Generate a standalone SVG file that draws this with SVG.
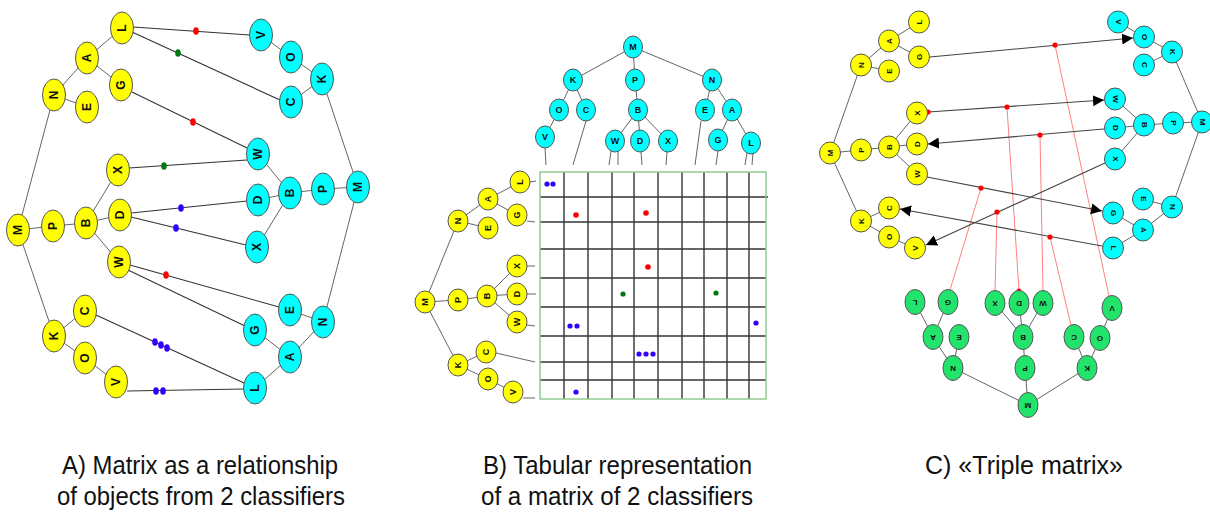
<svg xmlns="http://www.w3.org/2000/svg" width="1210" height="512" viewBox="0 0 1210 512">
<style>
.y{fill:#ffff00;stroke:#555;stroke-width:1}
.c{fill:#00ffff;stroke:#555;stroke-width:1}
.g{fill:#22e46c;stroke:#555;stroke-width:1}
.t{font-family:"Liberation Sans",Arial,sans-serif;font-weight:bold;text-anchor:middle;dominant-baseline:central;fill:#111}
.ta{font-size:12px}.tb{font-size:9px}.tc{font-size:8px}
.e{stroke:#666;stroke-width:1;fill:none}
.k{stroke:#333;stroke-width:1.1;fill:none}
.gr{stroke:#333;stroke-width:1.4;fill:none}
.pk{stroke:#ff8080;stroke-width:1;fill:none}
.ar{stroke:#444;stroke-width:1.1;fill:none;marker-end:url(#ah)}
.rd{fill:#ff0000}.gd{fill:#007a10}.bd{fill:#3300ff}
.cap{font-family:"Liberation Sans",Arial,sans-serif;font-size:26px;fill:#111}
</style>
<defs>
<marker id="ah" viewBox="0 0 10 10" refX="10" refY="5" markerWidth="11" markerHeight="13" markerUnits="userSpaceOnUse" orient="auto"><path d="M0,0 L10,5 L0,10 Z" fill="#000"/></marker>
</defs>
<rect width="1210" height="512" fill="#fff"/>

<!-- ===== connectors ===== -->
<g id="connectors">
<!-- Panel A tree edges -->
<g class="e">
<line x1="54" y1="95" x2="87" y2="58"/><line x1="87" y1="58" x2="122" y2="28"/><line x1="87" y1="58" x2="121" y2="85"/><line x1="54" y1="95" x2="87" y2="107"/>
<line x1="18" y1="230" x2="54" y2="95"/><line x1="18" y1="230" x2="53" y2="226"/><line x1="53" y1="226" x2="86" y2="223"/>
<line x1="86" y1="223" x2="118" y2="170"/><line x1="86" y1="223" x2="120" y2="215"/><line x1="86" y1="223" x2="119" y2="262"/>
<line x1="18" y1="230" x2="54" y2="336"/><line x1="54" y1="336" x2="85" y2="310"/><line x1="54" y1="336" x2="85" y2="358"/><line x1="85" y1="358" x2="116" y2="382"/>
<line x1="261" y1="35" x2="291" y2="57"/><line x1="291" y1="57" x2="322" y2="79"/><line x1="322" y1="79" x2="291" y2="102"/><line x1="322" y1="79" x2="358" y2="187"/>
<line x1="258" y1="154" x2="290" y2="193"/><line x1="258" y1="200" x2="290" y2="193"/><line x1="257" y1="247" x2="290" y2="193"/>
<line x1="290" y1="193" x2="323" y2="189"/><line x1="323" y1="189" x2="358" y2="187"/><line x1="358" y1="187" x2="323" y2="322"/>
<line x1="323" y1="322" x2="290" y2="310"/><line x1="323" y1="322" x2="290" y2="357"/><line x1="290" y1="357" x2="255" y2="330"/><line x1="290" y1="357" x2="255" y2="388"/>
</g>
<!-- Panel A relations -->
<g class="k">
<line x1="133" y1="27" x2="250" y2="35"/>
<line x1="132" y1="32" x2="280" y2="100"/>
<line x1="132" y1="92" x2="247" y2="148"/>
<line x1="129" y1="168" x2="247" y2="160"/>
<line x1="131" y1="213" x2="247" y2="201"/>
<line x1="131" y1="217" x2="246" y2="245"/>
<line x1="130" y1="265" x2="279" y2="307"/>
<line x1="128" y1="270" x2="245" y2="326"/>
<line x1="96" y1="315" x2="244" y2="383"/>
<line x1="127" y1="391" x2="244" y2="389"/>
</g>
<g>
<ellipse class="rd" cx="196" cy="31" rx="2.8" ry="3.8"/>
<ellipse class="gd" cx="178" cy="53" rx="2.8" ry="3.8"/>
<ellipse class="rd" cx="193" cy="122" rx="2.8" ry="3.8"/>
<ellipse class="gd" cx="164" cy="166" rx="2.8" ry="3.8"/>
<ellipse class="bd" cx="181" cy="208" rx="2.8" ry="3.8"/>
<ellipse class="bd" cx="176" cy="228" rx="2.8" ry="3.8"/>
<ellipse class="rd" cx="166" cy="275" rx="2.8" ry="3.8"/>
<ellipse class="bd" cx="155" cy="342" rx="2.8" ry="3.8"/>
<ellipse class="bd" cx="161" cy="345" rx="2.8" ry="3.8"/>
<ellipse class="bd" cx="167" cy="348" rx="2.8" ry="3.8"/>
<ellipse class="bd" cx="156" cy="391" rx="2.8" ry="3.8"/>
<ellipse class="bd" cx="163" cy="391" rx="2.8" ry="3.8"/>
</g>

<!-- Panel B tree edges -->
<g class="e">
<line x1="633" y1="47" x2="573" y2="80"/><line x1="633" y1="47" x2="635" y2="80"/><line x1="633" y1="47" x2="712" y2="80"/>
<line x1="573" y1="80" x2="559" y2="110"/><line x1="573" y1="80" x2="586" y2="110"/><line x1="559" y1="110" x2="545" y2="137"/>
<line x1="635" y1="80" x2="638" y2="110"/><line x1="638" y1="110" x2="615" y2="141"/><line x1="638" y1="110" x2="640" y2="141"/><line x1="638" y1="110" x2="668" y2="141"/>
<line x1="712" y1="80" x2="705" y2="110"/><line x1="712" y1="80" x2="732" y2="110"/><line x1="732" y1="110" x2="718" y2="140"/><line x1="732" y1="110" x2="751" y2="143"/>
<line x1="545" y1="148" x2="546" y2="165"/><line x1="586" y1="121" x2="573" y2="165"/>
<line x1="611" y1="151" x2="609" y2="165"/><line x1="618" y1="151" x2="618" y2="165"/>
<line x1="641" y1="152" x2="642" y2="165"/><line x1="667" y1="152" x2="666" y2="165"/>
<line x1="701" y1="121" x2="695" y2="165"/><line x1="718" y1="151" x2="716" y2="165"/>
<line x1="747" y1="153" x2="745" y2="165"/><line x1="753" y1="153" x2="752" y2="165"/>
<line x1="458" y1="221" x2="488" y2="199"/><line x1="488" y1="199" x2="520" y2="182"/><line x1="488" y1="199" x2="517" y2="215"/><line x1="458" y1="221" x2="488" y2="228"/>
<line x1="425" y1="302" x2="458" y2="221"/><line x1="425" y1="302" x2="458" y2="300"/><line x1="458" y1="300" x2="487" y2="296"/>
<line x1="487" y1="296" x2="517" y2="266"/><line x1="487" y1="296" x2="517" y2="294"/><line x1="487" y1="296" x2="517" y2="322"/>
<line x1="425" y1="302" x2="458" y2="365"/><line x1="458" y1="365" x2="486" y2="352"/><line x1="458" y1="365" x2="488" y2="379"/><line x1="488" y1="379" x2="513" y2="392"/>
<line x1="530" y1="182" x2="536" y2="181"/><line x1="527" y1="221" x2="535" y2="222"/><line x1="527" y1="266" x2="535" y2="266"/>
<line x1="527" y1="294" x2="536" y2="294"/><line x1="527" y1="325" x2="535" y2="326"/><line x1="496" y1="353" x2="535" y2="362"/><line x1="523" y1="398" x2="535" y2="398"/>
</g>
<!-- Panel B grid -->
<g class="gr">
<line x1="564" y1="172" x2="564" y2="399"/><line x1="588" y1="172" x2="588" y2="399"/><line x1="612" y1="172" x2="612" y2="399"/>
<line x1="634" y1="172" x2="634" y2="399"/><line x1="658" y1="172" x2="658" y2="399"/><line x1="682" y1="172" x2="682" y2="399"/>
<line x1="704" y1="172" x2="704" y2="399"/><line x1="727" y1="172" x2="727" y2="399"/><line x1="749" y1="172" x2="749" y2="399"/>
<line x1="540" y1="197" x2="768" y2="197"/><line x1="540" y1="222" x2="766" y2="222"/><line x1="540" y1="249" x2="766" y2="249"/>
<line x1="540" y1="278" x2="766" y2="278"/><line x1="540" y1="307" x2="766" y2="307"/><line x1="540" y1="336" x2="766" y2="336"/>
<line x1="540" y1="362" x2="766" y2="362"/><line x1="540" y1="380" x2="766" y2="380"/>
</g>
<rect x="540" y="172" width="226" height="227" fill="none" stroke="#8fcc8f" stroke-width="1.5"/>
<g>
<circle class="bd" cx="547" cy="184" r="2.6"/><circle class="bd" cx="553" cy="184" r="2.6"/>
<circle class="rd" cx="576" cy="215" r="2.8"/><circle class="rd" cx="646" cy="213" r="2.8"/>
<circle class="rd" cx="648" cy="267" r="2.8"/>
<circle class="gd" cx="623" cy="294" r="2.6"/><circle class="gd" cx="716" cy="293" r="2.6"/>
<circle class="bd" cx="570" cy="326" r="2.6"/><circle class="bd" cx="577" cy="326" r="2.6"/><circle class="bd" cx="756" cy="323" r="2.6"/>
<circle class="bd" cx="639" cy="354" r="2.6"/><circle class="bd" cx="646" cy="354" r="2.6"/><circle class="bd" cx="653" cy="354" r="2.6"/>
<circle class="bd" cx="576" cy="392" r="2.6"/>
</g>

<!-- Panel C tree edges -->
<g class="e">
<line x1="861" y1="65" x2="889" y2="41"/><line x1="889" y1="41" x2="919" y2="22"/><line x1="889" y1="41" x2="919" y2="57"/><line x1="861" y1="65" x2="889" y2="71"/>
<line x1="830" y1="153" x2="861" y2="65"/><line x1="830" y1="153" x2="861" y2="150"/><line x1="861" y1="150" x2="889" y2="147"/>
<line x1="889" y1="147" x2="917" y2="113"/><line x1="889" y1="147" x2="917" y2="144"/><line x1="889" y1="147" x2="917" y2="174"/>
<line x1="830" y1="153" x2="861" y2="221"/><line x1="861" y1="221" x2="889" y2="208"/><line x1="861" y1="221" x2="889" y2="237"/><line x1="889" y1="237" x2="915" y2="248"/>
<line x1="1118" y1="22" x2="1144" y2="37"/><line x1="1144" y1="37" x2="1172" y2="52"/><line x1="1172" y1="52" x2="1144" y2="65"/><line x1="1172" y1="52" x2="1202" y2="122"/>
<line x1="1115" y1="99" x2="1144" y2="125"/><line x1="1115" y1="128" x2="1144" y2="125"/><line x1="1115" y1="159" x2="1144" y2="125"/>
<line x1="1144" y1="125" x2="1173" y2="123"/><line x1="1173" y1="123" x2="1202" y2="122"/><line x1="1202" y1="122" x2="1172" y2="207"/>
<line x1="1172" y1="207" x2="1143" y2="199"/><line x1="1172" y1="207" x2="1143" y2="230"/><line x1="1143" y1="230" x2="1113" y2="213"/><line x1="1143" y1="230" x2="1113" y2="248"/>
<line x1="915" y1="302" x2="933" y2="337"/><line x1="948" y1="302" x2="933" y2="337"/><line x1="933" y1="337" x2="953" y2="368"/><line x1="959" y1="337" x2="953" y2="368"/>
<line x1="995" y1="303" x2="1023" y2="337"/><line x1="1019" y1="303" x2="1023" y2="337"/><line x1="1043" y1="303" x2="1023" y2="337"/>
<line x1="1023" y1="337" x2="1025" y2="368"/><line x1="1025" y1="368" x2="1028" y2="405"/><line x1="953" y1="368" x2="1028" y2="405"/><line x1="1087" y1="368" x2="1028" y2="405"/>
<line x1="1074" y1="337" x2="1087" y2="368"/><line x1="1100" y1="338" x2="1087" y2="368"/><line x1="1112" y1="308" x2="1100" y2="338"/>
</g>
<!-- Panel C pink links -->
<g class="pk">
<line x1="1055" y1="45" x2="1109" y2="296"/>
<line x1="1007" y1="107" x2="1019" y2="291"/>
<line x1="1040" y1="135" x2="1043" y2="291"/>
<line x1="981" y1="188" x2="950" y2="290"/>
<line x1="997" y1="212" x2="995" y2="291"/>
<line x1="1050" y1="237" x2="1071" y2="325"/>
</g>
<!-- Panel C arrows -->
<g>
<line class="ar" x1="930" y1="57" x2="1133" y2="38"/>
<line class="ar" x1="928" y1="112" x2="1104" y2="100"/>
<line class="ar" x1="1104" y1="129" x2="928" y2="144"/>
<line class="ar" x1="927" y1="177" x2="1102" y2="211"/>
<line class="ar" x1="1105" y1="163" x2="926" y2="245"/>
<line class="ar" x1="1102" y1="246" x2="900" y2="209"/>
</g>
<g class="rd">
<circle cx="1055" cy="45" r="2.6"/><circle cx="928" cy="112" r="2.6"/><circle cx="1007" cy="107" r="2.6"/>
<circle cx="1040" cy="135" r="2.6"/><circle cx="981" cy="188" r="2.6"/><circle cx="997" cy="212" r="2.6"/>
<circle cx="1050" cy="237" r="2.6"/><circle cx="1019" cy="291" r="2.4"/>
</g>
</g>

<!-- ===== Panel A nodes ===== -->
<g id="panelA">
<g id="aY-L"><ellipse class="y" cx="122" cy="28" rx="11.5" ry="16"/><text class="t ta" transform="translate(122,28) rotate(-90)">L</text></g>
<g id="aY-A"><ellipse class="y" cx="87" cy="58" rx="11.5" ry="16"/><text class="t ta" transform="translate(87,58) rotate(-90)">A</text></g>
<g id="aY-G"><ellipse class="y" cx="121" cy="85" rx="11.5" ry="16"/><text class="t ta" transform="translate(121,85) rotate(-90)">G</text></g>
<g id="aY-N"><ellipse class="y" cx="54" cy="95" rx="11.5" ry="16"/><text class="t ta" transform="translate(54,95) rotate(-90)">N</text></g>
<g id="aY-E"><ellipse class="y" cx="87" cy="107" rx="11.5" ry="16"/><text class="t ta" transform="translate(87,107) rotate(-90)">E</text></g>
<g id="aY-X"><ellipse class="y" cx="118" cy="170" rx="11.5" ry="16"/><text class="t ta" transform="translate(118,170) rotate(-90)">X</text></g>
<g id="aY-D"><ellipse class="y" cx="120" cy="215" rx="11.5" ry="16"/><text class="t ta" transform="translate(120,215) rotate(-90)">D</text></g>
<g id="aY-B"><ellipse class="y" cx="86" cy="223" rx="11.5" ry="16"/><text class="t ta" transform="translate(86,223) rotate(-90)">B</text></g>
<g id="aY-P"><ellipse class="y" cx="53" cy="226" rx="11.5" ry="16"/><text class="t ta" transform="translate(53,226) rotate(-90)">P</text></g>
<g id="aY-M"><ellipse class="y" cx="18" cy="230" rx="11.5" ry="16"/><text class="t ta" transform="translate(18,230) rotate(-90)">M</text></g>
<g id="aY-W"><ellipse class="y" cx="119" cy="262" rx="11.5" ry="16"/><text class="t ta" transform="translate(119,262) rotate(-90)">W</text></g>
<g id="aY-C"><ellipse class="y" cx="85" cy="311" rx="11.5" ry="16"/><text class="t ta" transform="translate(85,311) rotate(-90)">C</text></g>
<g id="aY-K"><ellipse class="y" cx="54" cy="336" rx="11.5" ry="16"/><text class="t ta" transform="translate(54,336) rotate(-90)">K</text></g>
<g id="aY-O"><ellipse class="y" cx="85" cy="358" rx="11.5" ry="16"/><text class="t ta" transform="translate(85,358) rotate(-90)">O</text></g>
<g id="aY-V"><ellipse class="y" cx="116" cy="382" rx="11.5" ry="16"/><text class="t ta" transform="translate(116,382) rotate(-90)">V</text></g>

<g id="aC-V"><ellipse class="c" cx="261" cy="35" rx="11.5" ry="16"/><text class="t ta" transform="translate(261,35) rotate(-90)">V</text></g>
<g id="aC-O"><ellipse class="c" cx="291" cy="57" rx="11.5" ry="16"/><text class="t ta" transform="translate(291,57) rotate(-90)">O</text></g>
<g id="aC-K"><ellipse class="c" cx="322" cy="79" rx="11.5" ry="16"/><text class="t ta" transform="translate(322,79) rotate(-90)">K</text></g>
<g id="aC-C"><ellipse class="c" cx="291" cy="102" rx="11.5" ry="16"/><text class="t ta" transform="translate(291,102) rotate(-90)">C</text></g>
<g id="aC-W"><ellipse class="c" cx="258" cy="154" rx="11.5" ry="16"/><text class="t ta" transform="translate(258,154) rotate(-90)">W</text></g>
<g id="aC-D"><ellipse class="c" cx="258" cy="200" rx="11.5" ry="16"/><text class="t ta" transform="translate(258,200) rotate(-90)">D</text></g>
<g id="aC-B"><ellipse class="c" cx="290" cy="193" rx="11.5" ry="16"/><text class="t ta" transform="translate(290,193) rotate(-90)">B</text></g>
<g id="aC-P"><ellipse class="c" cx="323" cy="189" rx="11.5" ry="16"/><text class="t ta" transform="translate(323,189) rotate(-90)">P</text></g>
<g id="aC-M"><ellipse class="c" cx="358" cy="187" rx="11.5" ry="16"/><text class="t ta" transform="translate(358,187) rotate(-90)">M</text></g>
<g id="aC-X"><ellipse class="c" cx="257" cy="247" rx="11.5" ry="16"/><text class="t ta" transform="translate(257,247) rotate(-90)">X</text></g>
<g id="aC-E"><ellipse class="c" cx="290" cy="310" rx="11.5" ry="16"/><text class="t ta" transform="translate(290,310) rotate(-90)">E</text></g>
<g id="aC-N"><ellipse class="c" cx="323" cy="322" rx="11.5" ry="16"/><text class="t ta" transform="translate(323,322) rotate(-90)">N</text></g>
<g id="aC-G"><ellipse class="c" cx="255" cy="330" rx="11.5" ry="16"/><text class="t ta" transform="translate(255,330) rotate(-90)">G</text></g>
<g id="aC-A"><ellipse class="c" cx="290" cy="357" rx="11.5" ry="16"/><text class="t ta" transform="translate(290,357) rotate(-90)">A</text></g>
<g id="aC-L"><ellipse class="c" cx="255" cy="388" rx="11.5" ry="16"/><text class="t ta" transform="translate(255,388) rotate(-90)">L</text></g>
</g>

<!-- ===== Panel B nodes ===== -->
<g id="panelB">
<g id="bC-M"><ellipse class="c" cx="633" cy="47" rx="9.5" ry="11"/><text class="t tb" x="633" y="47">M</text></g>
<g id="bC-K"><ellipse class="c" cx="573" cy="80" rx="9.5" ry="11"/><text class="t tb" x="573" y="80">K</text></g>
<g id="bC-P"><ellipse class="c" cx="635" cy="80" rx="9.5" ry="11"/><text class="t tb" x="635" y="80">P</text></g>
<g id="bC-N"><ellipse class="c" cx="712" cy="80" rx="9.5" ry="11"/><text class="t tb" x="712" y="80">N</text></g>
<g id="bC-O"><ellipse class="c" cx="559" cy="110" rx="9.5" ry="11"/><text class="t tb" x="559" y="110">O</text></g>
<g id="bC-C"><ellipse class="c" cx="586" cy="110" rx="9.5" ry="11"/><text class="t tb" x="586" y="110">C</text></g>
<g id="bC-B"><ellipse class="c" cx="638" cy="110" rx="9.5" ry="11"/><text class="t tb" x="638" y="110">B</text></g>
<g id="bC-E"><ellipse class="c" cx="705" cy="110" rx="9.5" ry="11"/><text class="t tb" x="705" y="110">E</text></g>
<g id="bC-A"><ellipse class="c" cx="732" cy="110" rx="9.5" ry="11"/><text class="t tb" x="732" y="110">A</text></g>
<g id="bC-V"><ellipse class="c" cx="545" cy="137" rx="9.5" ry="11"/><text class="t tb" x="545" y="137">V</text></g>
<g id="bC-W"><ellipse class="c" cx="615" cy="141" rx="9.5" ry="11"/><text class="t tb" x="615" y="141">W</text></g>
<g id="bC-D"><ellipse class="c" cx="640" cy="141" rx="9.5" ry="11"/><text class="t tb" x="640" y="141">D</text></g>
<g id="bC-X"><ellipse class="c" cx="668" cy="141" rx="9.5" ry="11"/><text class="t tb" x="668" y="141">X</text></g>
<g id="bC-G"><ellipse class="c" cx="718" cy="140" rx="9.5" ry="11"/><text class="t tb" x="718" y="140">G</text></g>
<g id="bC-L"><ellipse class="c" cx="751" cy="143" rx="9.5" ry="11"/><text class="t tb" x="751" y="143">L</text></g>

<g id="bY-L"><ellipse class="y" cx="520" cy="182" rx="10" ry="11"/><text class="t tb" transform="translate(520,182) rotate(-90)">L</text></g>
<g id="bY-A"><ellipse class="y" cx="488" cy="199" rx="10" ry="11"/><text class="t tb" transform="translate(488,199) rotate(-90)">A</text></g>
<g id="bY-G"><ellipse class="y" cx="517" cy="215" rx="10" ry="11"/><text class="t tb" transform="translate(517,215) rotate(-90)">G</text></g>
<g id="bY-N"><ellipse class="y" cx="458" cy="221" rx="10" ry="11"/><text class="t tb" transform="translate(458,221) rotate(-90)">N</text></g>
<g id="bY-E"><ellipse class="y" cx="488" cy="228" rx="10" ry="11"/><text class="t tb" transform="translate(488,228) rotate(-90)">E</text></g>
<g id="bY-X"><ellipse class="y" cx="517" cy="266" rx="10" ry="11"/><text class="t tb" transform="translate(517,266) rotate(-90)">X</text></g>
<g id="bY-D"><ellipse class="y" cx="517" cy="294" rx="10" ry="11"/><text class="t tb" transform="translate(517,294) rotate(-90)">D</text></g>
<g id="bY-B"><ellipse class="y" cx="487" cy="296" rx="10" ry="11"/><text class="t tb" transform="translate(487,296) rotate(-90)">B</text></g>
<g id="bY-P"><ellipse class="y" cx="458" cy="300" rx="10" ry="11"/><text class="t tb" transform="translate(458,300) rotate(-90)">P</text></g>
<g id="bY-M"><ellipse class="y" cx="425" cy="302" rx="10" ry="11"/><text class="t tb" transform="translate(425,302) rotate(-90)">M</text></g>
<g id="bY-W"><ellipse class="y" cx="517" cy="322" rx="10" ry="11"/><text class="t tb" transform="translate(517,322) rotate(-90)">W</text></g>
<g id="bY-C"><ellipse class="y" cx="486" cy="352" rx="10" ry="11"/><text class="t tb" transform="translate(486,352) rotate(-90)">C</text></g>
<g id="bY-K"><ellipse class="y" cx="458" cy="365" rx="10" ry="11"/><text class="t tb" transform="translate(458,365) rotate(-90)">K</text></g>
<g id="bY-O"><ellipse class="y" cx="488" cy="379" rx="10" ry="11"/><text class="t tb" transform="translate(488,379) rotate(-90)">O</text></g>
<g id="bY-V"><ellipse class="y" cx="513" cy="392" rx="10" ry="11"/><text class="t tb" transform="translate(513,392) rotate(-90)">V</text></g>
</g>

<!-- ===== Panel C nodes ===== -->
<g id="panelC">
<g id="cY-L"><ellipse class="y" cx="919" cy="22" rx="10.5" ry="11"/><text class="t tc" transform="translate(919,22) rotate(-90)">L</text></g>
<g id="cY-A"><ellipse class="y" cx="889" cy="41" rx="10.5" ry="11"/><text class="t tc" transform="translate(889,41) rotate(-90)">A</text></g>
<g id="cY-G"><ellipse class="y" cx="919" cy="57" rx="10.5" ry="11"/><text class="t tc" transform="translate(919,57) rotate(-90)">G</text></g>
<g id="cY-N"><ellipse class="y" cx="861" cy="65" rx="10.5" ry="11"/><text class="t tc" transform="translate(861,65) rotate(-90)">N</text></g>
<g id="cY-E"><ellipse class="y" cx="889" cy="71" rx="10.5" ry="11"/><text class="t tc" transform="translate(889,71) rotate(-90)">E</text></g>
<g id="cY-X"><ellipse class="y" cx="917" cy="113" rx="10.5" ry="11"/><text class="t tc" transform="translate(917,113) rotate(-90)">X</text></g>
<g id="cY-D"><ellipse class="y" cx="917" cy="144" rx="10.5" ry="11"/><text class="t tc" transform="translate(917,144) rotate(-90)">D</text></g>
<g id="cY-B"><ellipse class="y" cx="889" cy="147" rx="10.5" ry="11"/><text class="t tc" transform="translate(889,147) rotate(-90)">B</text></g>
<g id="cY-P"><ellipse class="y" cx="861" cy="150" rx="10.5" ry="11"/><text class="t tc" transform="translate(861,150) rotate(-90)">P</text></g>
<g id="cY-M"><ellipse class="y" cx="830" cy="153" rx="10.5" ry="11"/><text class="t tc" transform="translate(830,153) rotate(-90)">M</text></g>
<g id="cY-W"><ellipse class="y" cx="917" cy="174" rx="10.5" ry="11"/><text class="t tc" transform="translate(917,174) rotate(-90)">W</text></g>
<g id="cY-C"><ellipse class="y" cx="889" cy="208" rx="10.5" ry="11"/><text class="t tc" transform="translate(889,208) rotate(-90)">C</text></g>
<g id="cY-K"><ellipse class="y" cx="861" cy="221" rx="10.5" ry="11"/><text class="t tc" transform="translate(861,221) rotate(-90)">K</text></g>
<g id="cY-O"><ellipse class="y" cx="889" cy="237" rx="10.5" ry="11"/><text class="t tc" transform="translate(889,237) rotate(-90)">O</text></g>
<g id="cY-V"><ellipse class="y" cx="915" cy="248" rx="10.5" ry="11"/><text class="t tc" transform="translate(915,248) rotate(-90)">V</text></g>

<g id="cC-V"><ellipse class="c" cx="1118" cy="22" rx="10.5" ry="11"/><text class="t tc" transform="translate(1118,22) rotate(90)">V</text></g>
<g id="cC-O"><ellipse class="c" cx="1144" cy="37" rx="10.5" ry="11"/><text class="t tc" transform="translate(1144,37) rotate(90)">O</text></g>
<g id="cC-K"><ellipse class="c" cx="1172" cy="52" rx="10.5" ry="11"/><text class="t tc" transform="translate(1172,52) rotate(90)">K</text></g>
<g id="cC-C"><ellipse class="c" cx="1144" cy="65" rx="10.5" ry="11"/><text class="t tc" transform="translate(1144,65) rotate(90)">C</text></g>
<g id="cC-W"><ellipse class="c" cx="1115" cy="99" rx="10.5" ry="11"/><text class="t tc" transform="translate(1115,99) rotate(90)">W</text></g>
<g id="cC-D"><ellipse class="c" cx="1115" cy="128" rx="10.5" ry="11"/><text class="t tc" transform="translate(1115,128) rotate(90)">D</text></g>
<g id="cC-B"><ellipse class="c" cx="1144" cy="125" rx="10.5" ry="11"/><text class="t tc" transform="translate(1144,125) rotate(90)">B</text></g>
<g id="cC-P"><ellipse class="c" cx="1173" cy="123" rx="10.5" ry="11"/><text class="t tc" transform="translate(1173,123) rotate(90)">P</text></g>
<g id="cC-M"><ellipse class="c" cx="1202" cy="122" rx="10.5" ry="11"/><text class="t tc" transform="translate(1202,122) rotate(90)">M</text></g>
<g id="cC-X"><ellipse class="c" cx="1115" cy="159" rx="10.5" ry="11"/><text class="t tc" transform="translate(1115,159) rotate(90)">X</text></g>
<g id="cC-E"><ellipse class="c" cx="1143" cy="199" rx="10.5" ry="11"/><text class="t tc" transform="translate(1143,199) rotate(90)">E</text></g>
<g id="cC-N"><ellipse class="c" cx="1172" cy="207" rx="10.5" ry="11"/><text class="t tc" transform="translate(1172,207) rotate(90)">N</text></g>
<g id="cC-G"><ellipse class="c" cx="1113" cy="213" rx="10.5" ry="11"/><text class="t tc" transform="translate(1113,213) rotate(90)">G</text></g>
<g id="cC-A"><ellipse class="c" cx="1143" cy="230" rx="10.5" ry="11"/><text class="t tc" transform="translate(1143,230) rotate(90)">A</text></g>
<g id="cC-L"><ellipse class="c" cx="1113" cy="248" rx="10.5" ry="11"/><text class="t tc" transform="translate(1113,248) rotate(90)">L</text></g>

<g id="cG-L"><ellipse class="g" cx="915" cy="302" rx="10" ry="12.5"/><text class="t tc" transform="translate(915,302) rotate(180)">L</text></g>
<g id="cG-G"><ellipse class="g" cx="948" cy="302" rx="10" ry="12.5"/><text class="t tc" transform="translate(948,302) rotate(180)">G</text></g>
<g id="cG-X"><ellipse class="g" cx="995" cy="303" rx="10" ry="12.5"/><text class="t tc" transform="translate(995,303) rotate(180)">X</text></g>
<g id="cG-D"><ellipse class="g" cx="1019" cy="303" rx="10" ry="12.5"/><text class="t tc" transform="translate(1019,303) rotate(180)">D</text></g>
<g id="cG-W"><ellipse class="g" cx="1043" cy="303" rx="10" ry="12.5"/><text class="t tc" transform="translate(1043,303) rotate(180)">W</text></g>
<g id="cG-V"><ellipse class="g" cx="1112" cy="308" rx="10" ry="12.5"/><text class="t tc" transform="translate(1112,308) rotate(180)">V</text></g>
<g id="cG-A"><ellipse class="g" cx="933" cy="337" rx="10" ry="12.5"/><text class="t tc" transform="translate(933,337) rotate(180)">A</text></g>
<g id="cG-E"><ellipse class="g" cx="959" cy="337" rx="10" ry="12.5"/><text class="t tc" transform="translate(959,337) rotate(180)">E</text></g>
<g id="cG-B"><ellipse class="g" cx="1023" cy="337" rx="10" ry="12.5"/><text class="t tc" transform="translate(1023,337) rotate(180)">B</text></g>
<g id="cG-C"><ellipse class="g" cx="1074" cy="337" rx="10" ry="12.5"/><text class="t tc" transform="translate(1074,337) rotate(180)">C</text></g>
<g id="cG-O"><ellipse class="g" cx="1100" cy="338" rx="10" ry="12.5"/><text class="t tc" transform="translate(1100,338) rotate(180)">O</text></g>
<g id="cG-N"><ellipse class="g" cx="953" cy="368" rx="10" ry="12.5"/><text class="t tc" transform="translate(953,368) rotate(180)">N</text></g>
<g id="cG-P"><ellipse class="g" cx="1025" cy="368" rx="10" ry="12.5"/><text class="t tc" transform="translate(1025,368) rotate(180)">P</text></g>
<g id="cG-K"><ellipse class="g" cx="1087" cy="368" rx="10" ry="12.5"/><text class="t tc" transform="translate(1087,368) rotate(180)">K</text></g>
<g id="cG-M"><ellipse class="g" cx="1028" cy="405" rx="10" ry="12.5"/><text class="t tc" transform="translate(1028,405) rotate(180)">M</text></g>
</g>

<!-- captions -->
<g id="captions">
<text class="cap" x="62" y="474" textLength="276" lengthAdjust="spacingAndGlyphs">A) Matrix as a relationship</text>
<text class="cap" x="57" y="505" textLength="288" lengthAdjust="spacingAndGlyphs">of objects from 2 classifiers</text>
<text class="cap" x="483" y="474" textLength="269" lengthAdjust="spacingAndGlyphs">B) Tabular representation</text>
<text class="cap" x="481" y="505" textLength="272" lengthAdjust="spacingAndGlyphs">of a matrix of 2 classifiers</text>
<text class="cap" x="925" y="474" textLength="198" lengthAdjust="spacingAndGlyphs">C) «Triple matrix»</text>
</g>
</svg>
